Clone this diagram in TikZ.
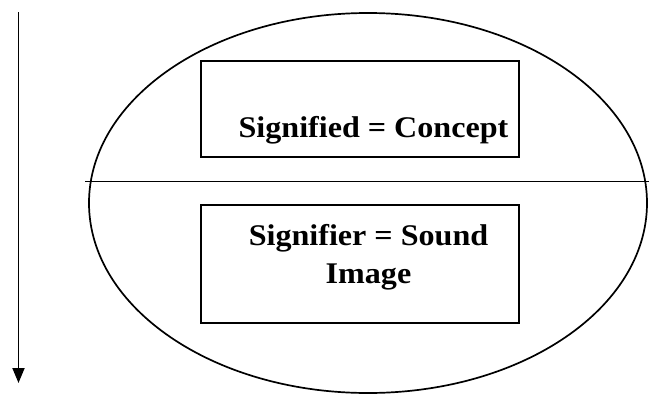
\documentclass[tikz,border=0pt]{standalone}
\usepackage{fontspec}
\setmainfont{Liberation Serif}
\newfontfamily\lblfont[FakeStretch=1.07]{Liberation Serif}
\usetikzlibrary{arrows.meta,shapes.geometric}
\begin{document}
\begin{tikzpicture}[x=1pt,y=-1pt,
  boxnode/.style={draw,line width=2pt,inner sep=0pt},
  lbl/.style={font=\lblfont\fontsize{30}{34}\selectfont\bfseries,inner sep=0pt,anchor=base},
  oval/.style={draw,ellipse,line width=1.7pt,inner sep=0pt}]
\useasboundingbox (0,0) rectangle (649,394);
\node[oval,minimum width=558pt,minimum height=380pt] (ell) at (368,203) {};
\coordinate (hl) at (85,181.5);
\coordinate (hr) at (649,181.5);
\draw[line width=1.8pt] (hl) -- (hr);
\node[boxnode,minimum width=318pt,minimum height=96pt] (top) at (360,108.8) {};
\node[boxnode,minimum width=318pt,minimum height=118pt] (bot) at (360,264) {};
\node[lbl] (t1) at (373.5,137) {Signified = Concept};
\node[lbl] (t2) at (368.5,245) {Signifier = Sound};
\node[lbl] (t3) at (368.5,283) {Image};
\coordinate (atop) at (18.5,12);
\coordinate (abot) at (18.5,383);
\draw[line width=1.8pt,-{Triangle[width=12pt,length=15pt]}] (atop) -- (abot);
\end{tikzpicture}
\end{document}
